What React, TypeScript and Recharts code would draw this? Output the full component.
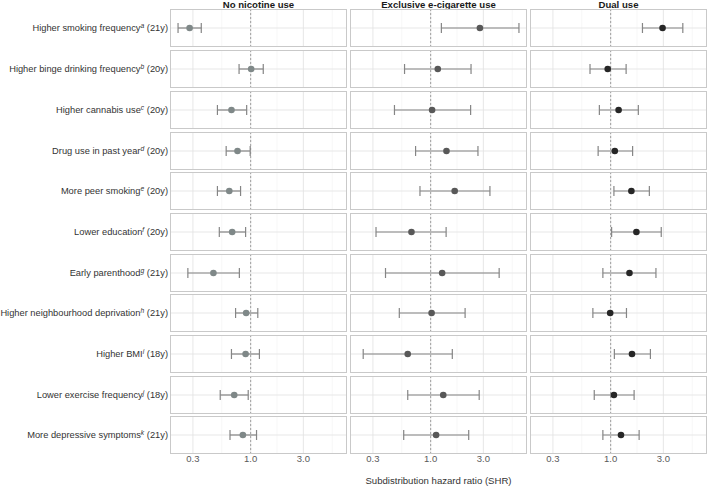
import { ErrorBar, ReferenceLine, Scatter, ScatterChart, XAxis, YAxis } from "recharts";

const groups = ["No nicotine use", "Exclusive e-cigarette use", "Dual use"];

const outcomes = [
  "Higher smoking frequency",
  "Higher binge drinking frequency",
  "Higher cannabis use",
  "Drug use in past year",
  "More peer smoking",
  "Lower education",
  "Early parenthood",
  "Higher neighbourhood deprivation",
  "Higher BMI",
  "Lower exercise frequency",
  "More depressive symptoms",
];
const footnotes = ["a", "b", "c", "d", "e", "f", "g", "h", "i", "j", "k"];
const ages = ["21y", "20y", "20y", "20y", "20y", "20y", "21y", "21y", "18y", "18y", "21y"];

const tickValues = [0.3, 1, 3];

const noNicotineShr = [0.28, 1.01, 0.67, 0.76, 0.64, 0.68, 0.46, 0.91, 0.9, 0.71, 0.85];
const noNicotineLower = [0.22, 0.785, 0.5, 0.6, 0.5, 0.52, 0.27, 0.73, 0.67, 0.53, 0.65];
const noNicotineUpper = [0.357, 1.3, 0.92, 0.99, 0.81, 0.9, 0.79, 1.16, 1.2, 0.95, 1.13];

const eCigShr = [2.79, 1.16, 1.03, 1.39, 1.65, 0.67, 1.27, 1.02, 0.62, 1.3, 1.12];
const eCigLower = [1.25, 0.58, 0.47, 0.73, 0.8, 0.32, 0.39, 0.52, 0.245, 0.62, 0.57];
const eCigUpper = [6.3, 2.32, 2.3, 2.68, 3.44, 1.38, 4.17, 2.05, 1.57, 2.75, 2.21];

const dualShr = [2.95, 0.94, 1.18, 1.09, 1.54, 1.71, 1.48, 0.99, 1.56, 1.07, 1.24];
const dualLower = [1.94, 0.65, 0.79, 0.77, 1.07, 1.02, 0.85, 0.69, 1.08, 0.71, 0.85];
const dualUpper = [4.5, 1.38, 1.78, 1.58, 2.24, 2.87, 2.57, 1.39, 2.29, 1.63, 1.81];

const shrByGroup = [noNicotineShr, eCigShr, dualShr];
const lowerByGroup = [noNicotineLower, eCigLower, dualLower];
const upperByGroup = [noNicotineUpper, eCigUpper, dualUpper];
const pointColors = ["#7f8888", "#585858", "#262626"];

// shared log-scale domain, expanded 5% each side like ggplot
const allBounds = [...lowerByGroup.flat(), ...upperByGroup.flat()];
const logMin = Math.log10(Math.min(...allBounds));
const logMax = Math.log10(Math.max(...allBounds));
const pad = (logMax - logMin) * 0.05;
const xDomain = [10 ** (logMin - pad), 10 ** (logMax + pad)];
const minorBreaks = [Math.sqrt(0.3 * 1), Math.sqrt(1 * 3), Math.sqrt(3 * 10)];

const FONT = "'Liberation Sans', Arial, Helvetica, sans-serif";
const PANEL_W = 177;
const PANEL_GAP = 3;
const LEFT0 = 170;
const ROW_H = 38;
const ROW_PITCH = 40.7;
const TOP0 = 9.4;
const AXIS_H = 14;

const colLeft = (gi: number) => LEFT0 + gi * (PANEL_W + PANEL_GAP);
const rowTop = (ri: number) => TOP0 + ri * ROW_PITCH;

function Cell({ gi, ri }: { gi: number; ri: number }) {
  const est = shrByGroup[gi][ri];
  const lo = lowerByGroup[gi][ri];
  const hi = upperByGroup[gi][ri];
  const data = [{ shr: est, row: 0.5, ci: [est - lo, hi - est] }];
  const showAxis = ri === outcomes.length - 1;
  const color = pointColors[gi];

  return (
    <div style={{ position: "absolute", left: colLeft(gi), top: rowTop(ri), width: PANEL_W }}>
      <ScatterChart
        width={PANEL_W}
        height={ROW_H + (showAxis ? AXIS_H : 0)}
        margin={{ top: 0, right: 0, bottom: 0, left: 0 }}
      >
        <XAxis
          type="number"
          dataKey="shr"
          scale="log"
          domain={xDomain}
          allowDataOverflow
          ticks={tickValues}
          interval={0}
          tickFormatter={(v: number) => v.toFixed(1)}
          hide={!showAxis}
          height={AXIS_H}
          axisLine={false}
          tickLine={false}
          tickSize={0}
          tickMargin={1}
          tick={{ fontSize: 9.5, fill: "#5a5a5a", fontFamily: FONT }}
        />
        <YAxis type="number" dataKey="row" domain={[0, 1]} hide />
        {minorBreaks.map((v) => (
          <ReferenceLine key={`m${v}`} x={v} stroke="#f1f1f1" strokeWidth={0.6} />
        ))}
        {tickValues.map((v) => (
          <ReferenceLine key={`M${v}`} x={v} stroke="#e4e4e4" strokeWidth={0.9} />
        ))}
        <ReferenceLine y={0.5} stroke="#e4e4e4" strokeWidth={0.9} />
        <ReferenceLine x={1} stroke="#8c8c8c" strokeWidth={0.8} strokeDasharray="2 2" />
        <Scatter
          data={data}
          isAnimationActive={false}
          shape={(p: any) => <circle cx={p.cx} cy={p.cy} r={3.3} fill={color} />}
        >
          <ErrorBar dataKey="ci" direction="x" width={5} stroke="#858585" strokeWidth={1.2} />
        </Scatter>
      </ScatterChart>
      <div
        style={{
          position: "absolute",
          left: 0,
          top: 0,
          width: PANEL_W,
          height: ROW_H,
          border: "1.3px solid #c9c9c9",
          boxSizing: "border-box",
          pointerEvents: "none",
        }}
      />
    </div>
  );
}

export default function App() {
  return (
    <div
      style={{
        position: "absolute",
        left: 0,
        top: 0,
        width: 709,
        height: 486,
        background: "#ffffff",
        fontFamily: FONT,
        overflow: "hidden",
      }}
    >
      {groups.map((g, gi) => (
        <div
          key={g}
          style={{
            position: "absolute",
            left: colLeft(gi),
            top: 0,
            width: PANEL_W,
            textAlign: "center",
            fontWeight: 700,
            fontSize: 9.6,
            lineHeight: "9px",
            color: "#1a1a1a",
          }}
        >
          {g}
        </div>
      ))}

      {outcomes.map((o, ri) => (
        <div
          key={o}
          style={{
            position: "absolute",
            right: 709 - 168,
            top: rowTop(ri) + ROW_H / 2 - 6,
            height: 12,
            lineHeight: "12px",
            textAlign: "right",
            fontSize: 9.3,
            color: "#333333",
            whiteSpace: "nowrap",
          }}
        >
          {o}
          <sup style={{ fontStyle: "italic", fontSize: "0.72em", lineHeight: 0, verticalAlign: "0.45em" }}>
            {footnotes[ri]}
          </sup>{" "}
          ({ages[ri]})
        </div>
      ))}

      {groups.map((g, gi) => outcomes.map((o, ri) => <Cell key={`${g}-${o}`} gi={gi} ri={ri} />))}

      <div
        style={{
          position: "absolute",
          left: LEFT0,
          top: 475,
          width: 3 * PANEL_W + 2 * PANEL_GAP,
          textAlign: "center",
          fontSize: 9.6,
          lineHeight: "12px",
          color: "#333333",
        }}
      >
        Subdistribution hazard ratio (SHR)
      </div>
    </div>
  );
}
